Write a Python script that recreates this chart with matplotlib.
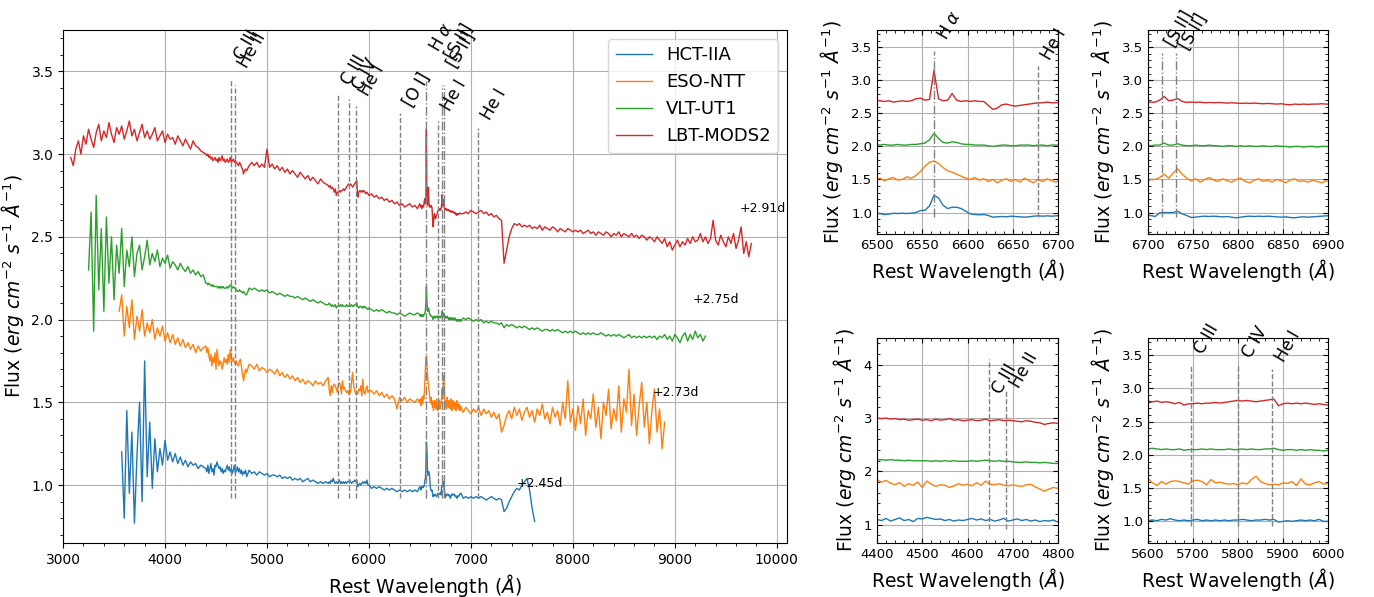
import numpy as np
import matplotlib
matplotlib.use('Agg')
import matplotlib.pyplot as plt
from matplotlib.ticker import AutoMinorLocator, MultipleLocator

plt.rcParams['font.family'] = ['DejaVu Sans']
plt.rcParams['mathtext.fontset'] = 'dejavusans'

# ---------------- data ----------------
instruments = ['HCT-IIA', 'ESO-NTT', 'VLT-UT1', 'LBT-MODS2']
phases = ['+2.45d', '+2.73d', '+2.75d', '+2.91d']

coarse_step = 25  # Angstrom
hct_start, eso_start, vlt_start, lbt_start = 3575, 3550, 3250, 3075

hct_flux = [
    1.20, 0.80, 1.45, 0.95, 1.32, 0.77, 1.18, 1.50, 0.90, 1.75, 1.05, 1.38, 0.98, 1.28, 1.08, 1.22, 1.12, 1.27, 1.15, 1.20,
    1.14, 1.19, 1.13, 1.17, 1.12, 1.15, 1.11, 1.14, 1.12, 1.13, 1.10, 1.12, 1.11, 1.13, 1.10, 1.11, 1.09, 1.12, 1.10, 1.11,
    1.09, 1.11, 1.10, 1.08, 1.10, 1.09, 1.07, 1.09, 1.08, 1.07, 1.09, 1.07, 1.08, 1.06, 1.08, 1.07, 1.06, 1.07, 1.05, 1.06,
    1.06, 1.05, 1.06, 1.04, 1.05, 1.04, 1.05, 1.03, 1.04, 1.03, 1.04, 1.02, 1.03, 1.04, 1.02, 1.03, 1.02, 1.01, 1.02, 1.01,
    1.02, 1.01, 1.02, 1.01, 1.02, 1.01, 1.00, 1.01, 1.00, 1.01, 1.00, 1.01, 1.00, 0.99, 1.00, 0.99, 0.98, 0.99, 0.98, 0.99,
    0.98, 0.99, 0.98, 0.97, 0.98, 0.97, 0.98, 0.97, 0.96, 0.97, 0.96, 0.97, 0.96, 0.97, 0.96, 0.97, 0.96, 0.97, 0.98, 1.01,
    1.08, 1.00, 0.95, 0.94, 0.95, 0.96, 1.00, 0.93, 0.94, 0.93, 0.94, 0.93, 0.94, 0.93, 0.92, 0.93, 0.92, 0.93, 0.92, 0.93,
    0.92, 0.93, 0.92, 0.91, 0.92, 0.93, 0.92, 0.91, 0.92, 0.91, 0.84, 0.86, 0.90, 0.93, 0.96, 0.98, 0.97, 1.00, 1.02, 1.04,
    0.97, 0.86, 0.78]

eso_flux = [
    2.05, 2.15, 1.90, 2.08, 1.95, 2.12, 1.88, 2.02, 1.93, 2.06, 1.90, 1.98, 1.92, 2.00, 1.88, 1.95, 1.90, 1.96, 1.87, 1.92,
    1.86, 1.91, 1.85, 1.89, 1.84, 1.88, 1.83, 1.86, 1.82, 1.85, 1.80, 1.84, 1.81, 1.83, 1.79, 1.82, 1.78, 1.80, 1.77, 1.79,
    1.76, 1.78, 1.75, 1.77, 1.74, 1.76, 1.73, 1.75, 1.72, 1.74, 1.71, 1.73, 1.72, 1.70, 1.73, 1.69, 1.71, 1.70, 1.68, 1.70,
    1.69, 1.67, 1.70, 1.66, 1.68, 1.65, 1.67, 1.64, 1.66, 1.63, 1.65, 1.62, 1.64, 1.61, 1.63, 1.62, 1.60, 1.63, 1.61, 1.62,
    1.60, 1.63, 1.59, 1.62, 1.58, 1.61, 1.57, 1.60, 1.58, 1.61, 1.59, 1.57, 1.60, 1.56, 1.58, 1.57, 1.55, 1.58, 1.56, 1.57,
    1.55, 1.57, 1.54, 1.56, 1.53, 1.55, 1.52, 1.54, 1.52, 1.46, 1.53, 1.51, 1.53, 1.50, 1.52, 1.51, 1.50, 1.52, 1.50, 1.51,
    1.78, 1.55, 1.50, 1.48, 1.50, 1.52, 1.65, 1.50, 1.47, 1.49, 1.46, 1.48, 1.47, 1.45, 1.48, 1.44, 1.47, 1.45, 1.43, 1.46,
    1.44, 1.47, 1.42, 1.46, 1.43, 1.45, 1.41, 1.44, 1.40, 1.43, 1.32, 1.36, 1.42, 1.45, 1.40, 1.47, 1.42, 1.46, 1.39, 1.44,
    1.47, 1.41, 1.45, 1.38, 1.46, 1.42, 1.49, 1.40, 1.44, 1.37, 1.47, 1.41, 1.45, 1.36, 1.50, 1.40, 1.63, 1.38, 1.46, 1.33,
    1.48, 1.37, 1.52, 1.30, 1.45, 1.40, 1.55, 1.35, 1.47, 1.28, 1.50, 1.42, 1.58, 1.34, 1.46, 1.39, 1.60, 1.32, 1.52, 1.44,
    1.70, 1.36, 1.55, 1.30, 1.48, 1.62, 1.35, 1.50, 1.25, 1.45, 1.58, 1.32, 1.46, 1.22, 1.38]

vlt_flux = [
    2.30, 2.65, 1.93, 2.75, 2.18, 2.55, 2.05, 2.62, 2.22, 2.50, 2.12, 2.45, 2.28, 2.55, 2.20, 2.42, 2.32, 2.50, 2.26, 2.40,
    2.45, 2.30, 2.38, 2.48, 2.33, 2.40, 2.35, 2.42, 2.32, 2.37, 2.34, 2.39, 2.31, 2.35, 2.33, 2.30, 2.34, 2.31, 2.29, 2.32,
    2.28, 2.30, 2.27, 2.29, 2.26, 2.27, 2.25, 2.26, 2.24, 2.25, 2.23, 2.24, 2.22, 2.23, 2.22, 2.21, 2.22, 2.21, 2.20, 2.21,
    2.20, 2.19, 2.20, 2.19, 2.18, 2.19, 2.18, 2.17, 2.18, 2.17, 2.18, 2.16, 2.17, 2.16, 2.15, 2.16, 2.15, 2.14, 2.15, 2.14,
    2.14, 2.13, 2.14, 2.13, 2.12, 2.13, 2.12, 2.11, 2.12, 2.11, 2.10, 2.11, 2.10, 2.09, 2.10, 2.09, 2.10, 2.09, 2.08, 2.09,
    2.08, 2.09, 2.08, 2.09, 2.10, 2.08, 2.07, 2.08, 2.07, 2.06, 2.07, 2.06, 2.05, 2.06, 2.05, 2.06, 2.05, 2.04, 2.05, 2.04,
    2.04, 2.03, 2.04, 2.03, 2.02, 2.03, 2.04, 2.03, 2.03, 2.04, 2.03, 2.04, 2.18, 2.05, 2.04, 2.03, 2.03, 2.02, 2.03, 2.03,
    2.02, 2.01, 2.02, 2.01, 2.02, 2.01, 2.00, 2.01, 2.00, 2.01, 2.00, 1.99, 2.00, 1.99, 2.00, 1.98, 1.99, 1.98, 1.99, 1.98,
    1.98, 1.97, 1.98, 1.95, 1.97, 1.96, 1.97, 1.96, 1.95, 1.96, 1.95, 1.96, 1.95, 1.94, 1.95, 1.94, 1.95, 1.94, 1.93, 1.94,
    1.94, 1.93, 1.94, 1.93, 1.94, 1.93, 1.92, 1.93, 1.92, 1.93, 1.92, 1.93, 1.92, 1.91, 1.92, 1.91, 1.92, 1.91, 1.92, 1.91,
    1.91, 1.92, 1.91, 1.90, 1.91, 1.90, 1.91, 1.90, 1.91, 1.90, 1.89, 1.90, 1.91, 1.89, 1.90, 1.89, 1.90, 1.89, 1.90, 1.89,
    1.90, 1.89, 1.90, 1.88, 1.90, 1.89, 1.91, 1.88, 1.90, 1.87, 1.91, 1.89, 1.86, 1.90, 1.92, 1.87, 1.91, 1.88, 1.93, 1.89,
    1.91, 1.87, 1.90]

lbt_flux = [
    2.98, 2.93, 3.03, 3.08, 3.00, 3.11, 3.06, 3.15, 3.09, 3.04, 3.13, 3.18, 3.08, 3.14, 3.10, 3.19, 3.12, 3.07, 3.16, 3.12,
    3.17, 3.09, 3.14, 3.20, 3.11, 3.15, 3.08, 3.13, 3.18, 3.10, 3.14, 3.09, 3.12, 3.16, 3.08, 3.11, 3.14, 3.07, 3.12, 3.09,
    3.10, 3.06, 3.11, 3.08, 3.05, 3.09, 3.06, 3.03, 3.08, 3.05, 3.04, 3.02, 3.01, 3.00, 2.99, 3.00, 2.98, 2.99, 2.97, 2.98,
    2.97, 2.96, 2.97, 2.95, 2.96, 2.95, 2.94, 2.93, 2.92, 2.91, 2.93, 2.95, 2.93, 2.95, 2.92, 2.94, 2.92, 3.03, 2.92, 2.94,
    2.91, 2.93, 2.90, 2.92, 2.89, 2.91, 2.88, 2.90, 2.88, 2.86, 2.89, 2.87, 2.85, 2.87, 2.84, 2.86, 2.84, 2.82, 2.85, 2.83,
    2.82, 2.81, 2.80, 2.78, 2.77, 2.78, 2.77, 2.79, 2.80, 2.81, 2.82, 2.80, 2.83, 2.85, 2.76, 2.78, 2.77, 2.76, 2.76, 2.74,
    2.75, 2.73, 2.74, 2.72, 2.73, 2.71, 2.72, 2.70, 2.71, 2.69, 2.70, 2.68, 2.69, 2.70, 2.68, 2.69, 2.67, 2.68, 2.69, 2.70,
    2.68, 2.67, 2.62, 2.60, 2.62, 2.63, 2.65, 2.66, 2.65, 2.66, 2.66, 2.65, 2.66, 2.65, 2.64, 2.65, 2.64, 2.66, 2.65, 2.64,
    2.65, 2.66, 2.64, 2.65, 2.63, 2.64, 2.62, 2.63, 2.61, 2.60, 2.34, 2.42, 2.50, 2.55, 2.58, 2.57, 2.58, 2.56, 2.57, 2.56,
    2.57, 2.55, 2.56, 2.55, 2.57, 2.54, 2.56, 2.55, 2.54, 2.56, 2.55, 2.53, 2.55, 2.54, 2.53, 2.55, 2.54, 2.53, 2.54, 2.53,
    2.54, 2.52, 2.53, 2.54, 2.52, 2.53, 2.51, 2.53, 2.52, 2.51, 2.53, 2.52, 2.50, 2.52, 2.51, 2.53, 2.50, 2.52, 2.51, 2.50,
    2.52, 2.50, 2.51, 2.49, 2.51, 2.50, 2.48, 2.50, 2.49, 2.47, 2.50, 2.48, 2.46, 2.49, 2.44, 2.47, 2.42, 2.45, 2.48, 2.44,
    2.47, 2.45, 2.49, 2.46, 2.50, 2.47, 2.48, 2.52, 2.47, 2.50, 2.46, 2.49, 2.60, 2.48, 2.45, 2.51, 2.47, 2.44, 2.50, 2.46,
    2.52, 2.43, 2.48, 2.56, 2.40, 2.47, 2.38, 2.46]

# finely sampled windows (start, step) and fluxes per instrument
win_halpha = (6498, 5)   # 42 samples
win_sii = (6708, 5)      # 40 samples
win_blue = (4400, 10)    # 41 samples
win_yellow = (5600, 10)  # 41 samples

hct_halpha = [0.99, 0.985, 0.97, 0.975, 0.99, 0.985, 0.99, 0.985, 0.99, 1.00, 1.03, 1.035, 1.10, 1.26, 1.22, 1.11,
              1.06, 1.08, 1.08, 1.06, 1.02, 0.98, 0.97, 0.965, 0.97, 0.955, 0.93, 0.935, 0.94, 0.935, 0.945, 0.94,
              0.935, 0.93, 0.935, 0.945, 0.95, 0.945, 0.95, 0.945, 0.95, 0.955]
eso_halpha = [1.50, 1.52, 1.48, 1.51, 1.53, 1.49, 1.50, 1.54, 1.52, 1.56, 1.62, 1.70, 1.76, 1.78, 1.74, 1.68,
              1.63, 1.61, 1.58, 1.55, 1.52, 1.50, 1.53, 1.49, 1.51, 1.47, 1.50, 1.45, 1.49, 1.51, 1.47, 1.50,
              1.46, 1.52, 1.48, 1.45, 1.50, 1.47, 1.51, 1.48, 1.46, 1.50]
vlt_halpha = [2.03, 2.02, 2.03, 2.02, 2.02, 2.03, 2.02, 2.02, 2.03, 2.03, 2.04, 2.05, 2.10, 2.20, 2.12, 2.06,
              2.05, 2.07, 2.06, 2.04, 2.03, 2.03, 2.02, 2.02, 2.02, 2.01, 2.00, 2.01, 2.02, 2.02, 2.01, 2.01,
              2.02, 2.02, 2.02, 2.01, 2.02, 2.02, 2.01, 2.02, 2.02, 2.01]
lbt_halpha = [2.70, 2.69, 2.68, 2.69, 2.67, 2.68, 2.69, 2.68, 2.69, 2.72, 2.73, 2.70, 2.71, 3.15, 2.72, 2.69,
              2.70, 2.80, 2.70, 2.68, 2.69, 2.68, 2.69, 2.68, 2.68, 2.62, 2.56, 2.58, 2.63, 2.64, 2.62, 2.61,
              2.62, 2.63, 2.64, 2.65, 2.66, 2.66, 2.67, 2.66, 2.66, 2.67]

hct_sii = [0.94, 0.995, 1.00, 0.998, 1.00, 1.02, 0.98, 0.955, 0.925, 0.93, 0.94, 0.945, 0.94, 0.945, 0.94, 0.935,
           0.94, 0.93, 0.92, 0.93, 0.94, 0.945, 0.94, 0.945, 0.94, 0.945, 0.94, 0.935, 0.93, 0.935, 0.925, 0.92,
           0.93, 0.935, 0.93, 0.935, 0.94, 0.945, 0.95, 0.95]
eso_sii = [1.50, 1.53, 1.58, 1.52, 1.60, 1.66, 1.58, 1.52, 1.48, 1.51, 1.46, 1.50, 1.53, 1.49, 1.47, 1.51,
           1.48, 1.46, 1.50, 1.52, 1.47, 1.45, 1.49, 1.51, 1.47, 1.49, 1.46, 1.50, 1.48, 1.45, 1.49, 1.51,
           1.47, 1.48, 1.46, 1.49, 1.47, 1.45, 1.48, 1.47]
vlt_sii = [2.02, 2.02, 2.05, 2.02, 2.02, 2.04, 2.02, 2.01, 2.01, 2.02, 2.01, 2.01, 2.02, 2.01, 2.01, 2.00,
           2.01, 2.01, 2.00, 2.01, 2.00, 2.01, 2.00, 2.00, 2.01, 2.00, 2.00, 2.01, 2.00, 2.00, 1.99, 2.00,
           2.00, 1.99, 2.00, 2.00, 1.99, 2.00, 2.00, 1.99]
lbt_sii = [2.67, 2.70, 2.755, 2.69, 2.70, 2.725, 2.68, 2.665, 2.67, 2.665, 2.67, 2.66, 2.665, 2.66, 2.665, 2.66,
           2.655, 2.66, 2.655, 2.65, 2.655, 2.65, 2.655, 2.65, 2.645, 2.65, 2.645, 2.64, 2.645, 2.635, 2.63, 2.64,
           2.635, 2.64, 2.635, 2.64, 2.64, 2.645, 2.64, 2.64]

hct_blue = [1.10, 1.08, 1.12, 1.07, 1.10, 1.13, 1.08, 1.10, 1.06, 1.12, 1.11, 1.14, 1.12, 1.10, 1.11, 1.08, 1.10,
            1.07, 1.09, 1.08, 1.10, 1.12, 1.09, 1.11, 1.08, 1.10, 1.07, 1.09, 1.12, 1.07, 1.09, 1.11, 1.08, 1.10,
            1.07, 1.09, 1.06, 1.08, 1.07, 1.09, 1.05]
eso_blue = [1.84, 1.80, 1.83, 1.78, 1.75, 1.79, 1.72, 1.77, 1.74, 1.80, 1.70, 1.82, 1.76, 1.72, 1.75, 1.74, 1.70,
            1.73, 1.77, 1.74, 1.76, 1.73, 1.79, 1.74, 1.82, 1.76, 1.75, 1.77, 1.74, 1.73, 1.75, 1.73, 1.72, 1.75,
            1.76, 1.71, 1.67, 1.63, 1.67, 1.70, 1.68]
vlt_blue = [2.22, 2.22, 2.21, 2.22, 2.21, 2.21, 2.20, 2.21, 2.20, 2.20, 2.20, 2.20, 2.19, 2.20, 2.19, 2.20, 2.19,
            2.20, 2.19, 2.19, 2.19, 2.20, 2.19, 2.20, 2.21, 2.20, 2.19, 2.20, 2.19, 2.19, 2.18, 2.17, 2.17, 2.18,
            2.17, 2.17, 2.16, 2.17, 2.16, 2.15, 2.15]
lbt_blue = [3.00, 2.99, 3.00, 2.98, 2.99, 2.97, 2.98, 2.96, 2.97, 2.98, 2.96, 2.97, 2.95, 2.98, 2.96, 2.97, 2.99,
            2.96, 2.97, 2.95, 2.96, 2.97, 2.95, 2.96, 2.98, 2.95, 2.96, 2.97, 2.95, 2.96, 2.95, 2.94, 2.93, 2.95,
            2.94, 2.92, 2.91, 2.88, 2.90, 2.91, 2.90]

hct_yellow = [1.01, 1.02, 1.01, 1.03, 1.02, 1.04, 1.02, 1.01, 1.02, 1.01, 1.02, 1.03, 1.01, 1.02, 1.01, 1.02, 1.01,
              1.02, 1.01, 1.02, 1.02, 1.03, 1.02, 1.01, 1.02, 1.02, 1.03, 1.02, 1.03, 0.99, 1.00, 1.01, 1.00, 1.01,
              1.02, 1.01, 1.02, 1.01, 1.03, 1.00, 1.00]
eso_yellow = [1.65, 1.58, 1.54, 1.60, 1.56, 1.60, 1.61, 1.60, 1.58, 1.56, 1.61, 1.62, 1.60, 1.55, 1.63, 1.58, 1.59,
              1.57, 1.56, 1.57, 1.55, 1.58, 1.56, 1.63, 1.68, 1.60, 1.57, 1.55, 1.56, 1.55, 1.58, 1.57, 1.60, 1.54,
              1.64, 1.56, 1.55, 1.58, 1.60, 1.56, 1.57]
vlt_yellow = [2.09, 2.10, 2.09, 2.08, 2.09, 2.08, 2.08, 2.09, 2.07, 2.08, 2.08, 2.08, 2.09, 2.08, 2.09, 2.08, 2.08,
              2.08, 2.09, 2.08, 2.08, 2.09, 2.08, 2.09, 2.08, 2.08, 2.09, 2.09, 2.10, 2.08, 2.07, 2.08, 2.08, 2.07,
              2.08, 2.07, 2.08, 2.07, 2.07, 2.06, 2.07]
lbt_yellow = [2.81, 2.80, 2.81, 2.79, 2.80, 2.79, 2.77, 2.79, 2.75, 2.77, 2.77, 2.78, 2.77, 2.78, 2.78, 2.79, 2.78,
              2.79, 2.80, 2.81, 2.82, 2.81, 2.82, 2.81, 2.80, 2.81, 2.82, 2.83, 2.84, 2.74, 2.77, 2.78, 2.77, 2.78,
              2.77, 2.78, 2.77, 2.76, 2.77, 2.76, 2.75]

# spectral line identifications
main_line_names = ['C III', 'He II', 'C III', 'C IV', 'He I', '[O I]', r'H $\alpha$', 'He I', '[S II]', '[S II]', 'He I']
main_line_waves = [4647, 4686, 5696, 5801, 5876, 6300, 6563, 6678, 6716, 6731, 7065]
main_line_tops = [3.45, 3.42, 3.37, 3.33, 3.29, 3.25, 3.44, 3.20, 3.42, 3.42, 3.16]
main_text_y = [3.55, 3.50, 3.40, 3.37, 3.33, 3.27, 3.60, 3.24, 3.55, 3.50, 3.19]
main_line_style = ['--', '--', '--', '--', '--', '--', '-.', '--', '-.', '-.', '--']

# phase label anchors (wavelength, flux)
phase_pos = [(7450, 1.01), (8785, 1.56), (9175, 2.12), (9640, 2.67)]

colors = ['C0', 'C1', 'C2', 'C3']


def build(start, coarse, windows):
    wl = start + coarse_step * np.arange(len(coarse))
    fl = np.asarray(coarse, float)
    keep = np.ones(len(wl), bool)
    parts_w, parts_f = [], []
    for (w0, dw), vals in windows:
        ww = w0 + dw * np.arange(len(vals))
        keep &= ~((wl >= ww[0]) & (wl <= ww[-1]))
        parts_w.append(ww)
        parts_f.append(np.asarray(vals, float))
    allw = np.concatenate([wl[keep]] + parts_w)
    allf = np.concatenate([fl[keep]] + parts_f)
    o = np.argsort(allw)
    return allw[o], allf[o]


spectra = [
    build(hct_start, hct_flux, [(win_halpha, hct_halpha), (win_sii, hct_sii), (win_blue, hct_blue), (win_yellow, hct_yellow)]),
    build(eso_start, eso_flux, [(win_halpha, eso_halpha), (win_sii, eso_sii), (win_blue, eso_blue), (win_yellow, eso_yellow)]),
    build(vlt_start, vlt_flux, [(win_halpha, vlt_halpha), (win_sii, vlt_sii), (win_blue, vlt_blue), (win_yellow, vlt_yellow)]),
    build(lbt_start, lbt_flux, [(win_halpha, lbt_halpha), (win_sii, lbt_sii), (win_blue, lbt_blue), (win_yellow, lbt_yellow)]),
]

# ---------------- figure ----------------
fig = plt.figure(figsize=(13.74, 5.97), dpi=100)
flux_label = r'Flux ($erg\ cm^{-2}\ s^{-1}\ \AA^{-1}$)'
wave_label = r'Rest Wavelength ($\AA$)'
LABFS = 13.5

ax = fig.add_axes([0.0459, 0.0905, 0.5269, 0.8593])
for (w, f), c, lab in zip(spectra, colors, instruments):
    ax.plot(w, f, color=c, lw=1.0, label=lab)
for name, wv, top, ty, ls in zip(main_line_names, main_line_waves, main_line_tops, main_text_y, main_line_style):
    ax.vlines(wv, 0.92, top, colors='gray', linestyles=ls, lw=1.0)
    ax.text(wv, ty, name, rotation=60, ha='left', va='bottom', fontsize=12)
for (px, py), ph in zip(phase_pos, phases):
    ax.text(px, py, ph, fontsize=9, ha='left', va='center')
ax.set_xlim(3000, 10100)
ax.set_ylim(0.65, 3.75)
ax.xaxis.set_major_locator(MultipleLocator(1000))
ax.yaxis.set_major_locator(MultipleLocator(0.5))
ax.xaxis.set_minor_locator(AutoMinorLocator(5))
ax.yaxis.set_minor_locator(AutoMinorLocator(5))
ax.tick_params(labelsize=10)
ax.grid(True, which='major')
ax.set_xlabel(wave_label, fontsize=LABFS)
ax.set_ylabel(flux_label, fontsize=LABFS)
ax.legend(loc='upper right', fontsize=13)

# small panels: (rect, xlim, ylim, xmajor, ymajor, lines)
panels = [
    ([0.6383, 0.6080, 0.1317, 0.3417], (6500, 6700), (0.675, 3.76), 50, 0.5,
     [(r'H $\alpha$', 6563, 3.45, 3.56, '-.'), ('He I', 6678, 3.22, 3.26, '--')]),
    ([0.8355, 0.6080, 0.1310, 0.3417], (6700, 6900), (0.675, 3.76), 50, 0.5,
     [('[S II]', 6716, 3.41, 3.46, '-.'), ('[S II]', 6731, 3.41, 3.42, '-.')]),
    ([0.6383, 0.0905, 0.1317, 0.3434], (4400, 4800), (0.66, 4.5), 100, 1.0,
     [('C III', 4647, 4.11, 3.40, '--'), ('He II', 4686, 3.50, 3.50, '--')]),
    ([0.8355, 0.0905, 0.1310, 0.3434], (5600, 6000), (0.675, 3.76), 100, 0.5,
     [('C III', 5696, 3.35, 3.47, '--'), ('C IV', 5801, 3.35, 3.42, '--'), ('He I', 5876, 3.30, 3.35, '--')]),
]
for rect, xl, yl, xm, ym, lines in panels:
    a = fig.add_axes(rect)
    for (w, f), c in zip(spectra, colors):
        a.plot(w, f, color=c, lw=1.0)
    for name, wv, top, ty, ls in lines:
        a.vlines(wv, 0.93, top, colors='gray', linestyles=ls, lw=1.0)
        a.text(wv, ty, name, rotation=60, ha='left', va='bottom', fontsize=12)
    a.set_xlim(*xl)
    a.set_ylim(*yl)
    a.xaxis.set_major_locator(MultipleLocator(xm))
    a.yaxis.set_major_locator(MultipleLocator(ym))
    a.xaxis.set_minor_locator(AutoMinorLocator(5))
    a.yaxis.set_minor_locator(AutoMinorLocator(5))
    a.tick_params(which='both', direction='in', top=True, right=True, labelsize=9.5)
    a.grid(True, which='major')
    a.set_xlabel(wave_label, fontsize=LABFS)
    a.set_ylabel(flux_label, fontsize=LABFS)

fig.savefig('out.png', dpi=100)
